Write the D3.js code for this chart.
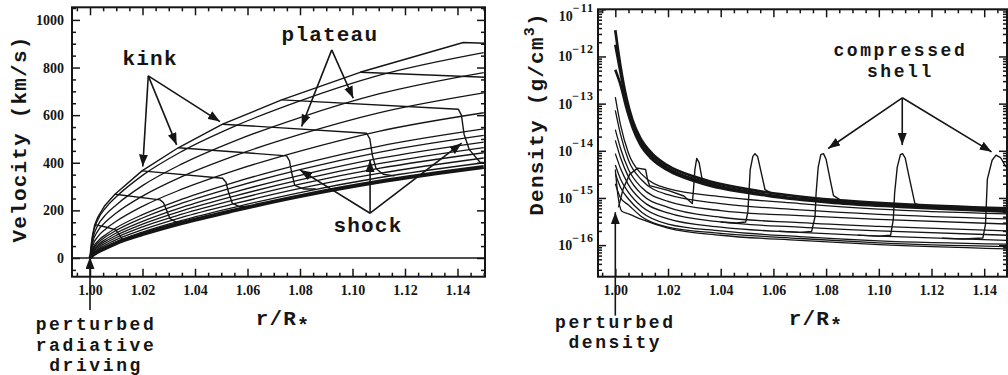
<!DOCTYPE html>
<html>
<head>
<meta charset="utf-8">
<script src="https://cdn.jsdelivr.net/npm/d3@7"></script>
<style>
  body { margin: 0; background: #fff; }
  svg { display: block; }
  .lbl { font-family: "Liberation Mono", "DejaVu Sans Mono", monospace; font-weight: bold; font-size: 21px; letter-spacing: 1.2px; fill: #151515; }
  .note { font-size: 18px; letter-spacing: 2.6px; }
</style>
</head>
<body>
<svg id="fig" width="1008" height="375"></svg>
<script>
// ---- data ----
const rTicks = [1.00, 1.02, 1.04, 1.06, 1.08, 1.10, 1.12, 1.14];
const velTicks = [0, 200, 400, 600, 800, 1000];
const denTicks = [1e-16, 1e-15, 1e-14, 1e-13, 1e-12, 1e-11];
const denTickExp = ['\u221216', '\u221215', '\u221214', '\u221213', '\u221212', '\u221211'];

// velocity (km/s) vs r/R*
const velBase = [[1.000,0],[1.001,12],[1.003,26],[1.006,42],[1.010,62],[1.020,100],[1.035,147],[1.055,200],[1.080,260],[1.110,320],[1.150,382]];
const velEnvelope = [[1.000,0],[1.0002,30],[1.0005,60],[1.001,98],[1.0018,140],[1.003,172],[1.0055,218],[1.0095,268],[1.0198,366],[1.0336,463],[1.0505,562],[1.0730,664],[1.1029,780],[1.1422,905],[1.1505,902]];
const velFan1 = [[1.000,0],[1.001,92],[1.003,161],[1.006,211],[1.010,257],[1.020,347],[1.035,448],[1.055,553],[1.080,660],[1.110,767],[1.150,863]];
const velFan2 = [[1.000,0],[1.001,78],[1.003,137],[1.006,182],[1.010,223],[1.020,304],[1.035,395],[1.055,491],[1.080,590],[1.110,689],[1.150,779]];
const velFan3 = [[1.000,0],[1.001,64],[1.003,114],[1.006,152],[1.010,189],[1.020,260],[1.035,342],[1.055,429],[1.080,519],[1.110,610],[1.150,694]];
const velFan4 = [[1.000,0],[1.001,50],[1.003,90],[1.006,122],[1.010,154],[1.020,217],[1.035,289],[1.055,367],[1.080,449],[1.110,532],[1.150,610]];
const velFan5 = [[1.000,0],[1.001,38],[1.003,71],[1.006,98],[1.010,127],[1.020,182],[1.035,247],[1.055,318],[1.080,393],[1.110,469],[1.150,542]];
const velFan6 = [[1.000,0],[1.001,34],[1.003,63],[1.006,89],[1.010,116],[1.020,168],[1.035,230],[1.055,298],[1.080,371],[1.110,444],[1.150,515]];
const velFan7 = [[1.000,0],[1.001,29],[1.003,55],[1.006,79],[1.010,105],[1.020,154],[1.035,213],[1.055,277],[1.080,347],[1.110,418],[1.150,487]];
const velFan8 = [[1.000,0],[1.001,26],[1.003,49],[1.006,71],[1.010,95],[1.020,142],[1.035,198],[1.055,260],[1.080,328],[1.110,396],[1.150,464]];
const velFan9 = [[1.000,0],[1.001,22],[1.003,43],[1.006,63],[1.010,86],[1.020,131],[1.035,184],[1.055,244],[1.080,310],[1.110,376],[1.150,442]];
const velFan10 = [[1.000,0],[1.001,18],[1.003,37],[1.006,55],[1.010,77],[1.020,119],[1.035,171],[1.055,228],[1.080,292],[1.110,355],[1.150,420]];
const velFan11 = [[1.000,0],[1.001,15],[1.003,31],[1.006,48],[1.010,69],[1.020,109],[1.035,158],[1.055,213],[1.080,275],[1.110,337],[1.150,400]];
const velShock1 = [[1.0018,140],[1.0060,130],[1.0098,118],[1.0110,100],[1.0122,80],[1.0140,79],[1.0170,88]];
const velShock2 = [[1.0095,268],[1.0267,244],[1.0280,232],[1.0292,200],[1.0305,165],[1.0330,150],[1.0360,150]];
const velShock3 = [[1.0198,366],[1.0505,335],[1.0518,318],[1.0528,275],[1.0542,230],[1.0570,215],[1.0610,218]];
const velShock4 = [[1.0336,463],[1.0749,429],[1.0760,408],[1.0768,360],[1.0780,305],[1.0813,290],[1.0860,290]];
const velShock5 = [[1.0505,562],[1.1054,524],[1.1066,500],[1.1076,430],[1.1090,375],[1.1117,352],[1.1160,345]];
const velShock6 = [[1.0730,664],[1.1403,625],[1.1415,600],[1.1425,520],[1.1445,455],[1.1486,402],[1.1505,400]];
const velShock7 = [[1.1029,780],[1.1505,759]];

// density (g/cm^3) vs r/R*
const denBase1 = [[1.000,3.6e-12],[1.001,1.4e-12],[1.002,6.0e-13],[1.0043,1.26e-13],[1.0065,4.5e-14],[1.0094,1.9e-14],[1.014,8.7e-15],[1.0195,5.0e-15],[1.032,2.6e-15],[1.0575,1.32e-15],[1.083,9.1e-16],[1.108,7.4e-16],[1.1485,6.0e-16]];
const denBase2 = [[1.000,1.78e-12],[1.001,8.9e-13],[1.002,4.5e-13],[1.0043,1.05e-13],[1.0065,3.8e-14],[1.0094,1.62e-14],[1.014,7.6e-15],[1.0195,4.4e-15],[1.032,2.3e-15],[1.0575,1.17e-15],[1.083,8.3e-16],[1.108,6.8e-16],[1.1485,5.4e-16]];
const denBase3 = [[1.000,5.2e-13],[1.002,2.5e-13],[1.0043,7.9e-14],[1.0065,3.2e-14],[1.0094,1.38e-14],[1.014,6.6e-15],[1.0195,4.0e-15],[1.032,2.1e-15],[1.0575,1.12e-15],[1.083,7.9e-16],[1.108,6.5e-16],[1.1485,5.1e-16]];
const denLow1 = [[1.000,1.38e-13],[1.002,3.5e-14],[1.005,8.9e-15],[1.010,3.2e-15],[1.020,1.58e-15],[1.040,1.07e-15],[1.070,7.6e-16],[1.100,5.8e-16],[1.1485,4.6e-16]];
const denLow2 = [[1.000,7.2e-14],[1.002,2.2e-14],[1.005,6.3e-15],[1.010,2.4e-15],[1.020,1.17e-15],[1.040,7.6e-16],[1.070,5.6e-16],[1.100,4.5e-16],[1.1485,3.6e-16]];
const denLow3 = [[1.000,2.8e-14],[1.002,1.12e-14],[1.005,4.0e-15],[1.010,1.66e-15],[1.020,8.5e-16],[1.040,5.4e-16],[1.070,4.2e-16],[1.100,3.5e-16],[1.1485,2.8e-16]];
const denLow4 = [[1.000,1.66e-14],[1.002,7.1e-15],[1.005,2.8e-15],[1.010,1.2e-15],[1.020,6.3e-16],[1.040,3.9e-16],[1.070,3.0e-16],[1.100,2.5e-16],[1.1485,2.0e-16]];
const denLow5 = [[1.000,8.7e-15],[1.002,4.2e-15],[1.005,1.9e-15],[1.010,8.9e-16],[1.020,4.8e-16],[1.040,3.1e-16],[1.070,2.4e-16],[1.100,2.0e-16],[1.1485,1.62e-16]];
const denLow6 = [[1.000,5.0e-15],[1.002,2.5e-15],[1.005,1.32e-15],[1.010,6.6e-16],[1.020,3.6e-16],[1.040,2.4e-16],[1.070,1.86e-16],[1.100,1.55e-16],[1.1485,1.26e-16]];
const denLow7 = [[1.000,3.3e-15],[1.002,1.66e-15],[1.005,9.5e-16],[1.010,5.0e-16],[1.020,2.8e-16],[1.040,2.0e-16],[1.070,1.51e-16],[1.100,1.23e-16],[1.1485,1.05e-16]];
const denLow8 = [[1.000,2.0e-15],[1.002,1.0e-15],[1.005,7.1e-16],[1.010,4.0e-16],[1.020,2.4e-16],[1.040,1.78e-16],[1.070,1.38e-16],[1.100,1.12e-16],[1.1485,9.3e-17]];
const denLow9 = [[1.000,4.0e-15],[1.001,1.12e-15],[1.0025,5.2e-16],[1.005,4.6e-16],[1.010,3.5e-16],[1.020,2.3e-16],[1.040,1.62e-16],[1.070,1.26e-16],[1.100,1.02e-16],[1.1485,8.3e-17]];
const denShellA = [[1.0012,6.3e-16],[1.003,1.58e-15],[1.0055,3.2e-15],[1.0085,4.3e-15],[1.0115,4.0e-15],[1.0122,2.5e-15],[1.013,1.82e-15],[1.020,1.45e-15],[1.026,1.1e-15],[1.0292,7.6e-16],[1.0297,1.58e-15],[1.0302,4.0e-15],[1.0309,6.9e-15],[1.0318,5.6e-15],[1.0330,2.4e-15],[1.0360,2.2e-15]];
const denShellB = [[1.040,3.1e-16],[1.046,2.95e-16],[1.0495,3.1e-16],[1.0503,5.0e-16],[1.0507,1.26e-15],[1.0512,4.0e-15],[1.0522,7.6e-15],[1.053,8.7e-15],[1.054,7.6e-15],[1.0555,3.2e-15],[1.0568,1.51e-15],[1.060,1.2e-15]];
const denShellC = [[1.062,1.97e-16],[1.070,1.86e-16],[1.0745,1.95e-16],[1.0758,4.0e-16],[1.0762,1.26e-15],[1.0770,4.5e-15],[1.0780,8.3e-15],[1.0790,8.7e-15],[1.0800,6.6e-15],[1.0815,2.5e-15],[1.0828,1.12e-15],[1.0860,8.7e-16]];
const denShellD = [[1.092,1.63e-16],[1.100,1.55e-16],[1.1045,1.62e-16],[1.1055,3.5e-16],[1.1060,1.26e-15],[1.1070,4.5e-15],[1.1082,8.3e-15],[1.1090,8.7e-15],[1.1100,7.1e-15],[1.1115,2.8e-15],[1.1137,7.6e-16],[1.1170,6.8e-16]];
const denShellE = [[1.124,1.40e-16],[1.132,1.35e-16],[1.1395,1.42e-16],[1.1405,2.8e-16],[1.1409,1.0e-15],[1.1412,2.5e-15],[1.1430,6.3e-15],[1.1445,8.1e-15],[1.1462,7.2e-15],[1.1480,4.8e-15],[1.1500,3.5e-15]];

const ink = '#151515';
const svg = d3.select('#fig');

// scales: left panel (velocity), right panel (density)
const vx = d3.scaleLinear().domain([0.99314, 1.15048]).range([72, 485]);
const vy = d3.scaleLinear().domain([-78.6, 1053]).range([276.7, 7.3]);
const dx = d3.scaleLinear().domain([0.99343, 1.14865]).range([598, 1007]);
const dy = d3.scaleLog().domain([2.14e-17, 1e-11]).range([276.7, 9.3]);

const rMinor = d3.range(0.995, 1.151, 0.005).filter(r => Math.abs(Math.round(r / 0.02) * 0.02 - r) > 1e-6);
const velMinor = d3.range(-50, 1051, 50).filter(v => v % 200 !== 0);
const denMinor = [];
for (let e = -17; e <= -12; e++) for (let m = 2; m <= 9; m++) denMinor.push(m * Math.pow(10, e));

const defs = svg.append('defs');
defs.append('marker').attr('id', 'ah').attr('viewBox', '0 0 12 9').attr('refX', 12).attr('refY', 4.5)
  .attr('markerWidth', 12).attr('markerHeight', 9).attr('markerUnits', 'userSpaceOnUse').attr('orient', 'auto')
  .append('path').attr('d', 'M0,0L12,4.5L0,9z').attr('fill', ink);

function clipFor(id, x, y) {
  defs.append('clipPath').attr('id', id).append('rect')
    .attr('x', x.range()[0]).attr('y', y.range()[1])
    .attr('width', x.range()[1] - x.range()[0]).attr('height', y.range()[0] - y.range()[1]);
}
clipFor('clipV', vx, vy);
clipFor('clipD', dx, dy);

function addAxes(x, y, yMajor, yMinor, yFormat) {
  const g = svg.append('g');
  const [xl, xr] = x.range();
  const [yb, yt] = y.range();
  const tk = (axis, vals, size, fmt) => axis.tickValues(vals).tickSizeInner(size).tickSizeOuter(0).tickFormat(fmt || '');
  g.append('g').attr('transform', `translate(0,${yb})`).call(tk(d3.axisBottom(x), rTicks, -8, d3.format('.2f')).tickPadding(8));
  g.append('g').attr('transform', `translate(0,${yb})`).call(tk(d3.axisBottom(x), rMinor, -4));
  g.append('g').attr('transform', `translate(0,${yt})`).call(tk(d3.axisTop(x), rTicks, -8));
  g.append('g').attr('transform', `translate(0,${yt})`).call(tk(d3.axisTop(x), rMinor, -4));
  g.append('g').attr('transform', `translate(${xl},0)`).call(tk(d3.axisLeft(y), yMajor, -8, yFormat).tickPadding(8));
  g.append('g').attr('transform', `translate(${xl},0)`).call(tk(d3.axisLeft(y), yMinor, -4));
  g.append('g').attr('transform', `translate(${xr},0)`).call(tk(d3.axisRight(y), yMajor, -8));
  g.append('g').attr('transform', `translate(${xr},0)`).call(tk(d3.axisRight(y), yMinor, -4));
  g.selectAll('.domain').remove();
  g.selectAll('.tick line').attr('stroke', ink).attr('stroke-width', 1.5);
  g.selectAll('.tick text').attr('font-family', '"Liberation Serif", serif').attr('font-weight', 'bold')
    .attr('font-size', 14).attr('fill', ink);
  g.append('rect').attr('x', xl).attr('y', yt).attr('width', xr - xl).attr('height', yb - yt)
    .attr('fill', 'none').attr('stroke', ink).attr('stroke-width', 2);
  return g;
}

function drawLines(g, gen, series, width) {
  g.selectAll(null).data(series).join('path')
    .attr('d', gen).attr('fill', 'none').attr('stroke', ink)
    .attr('stroke-width', width).attr('stroke-linejoin', 'round');
}

function arrows(x, y, list) {
  svg.append('g').selectAll('line').data(list).join('line')
    .attr('x1', d => x(d[0][0])).attr('y1', d => y(d[0][1]))
    .attr('x2', d => x(d[1][0])).attr('y2', d => y(d[1][1]))
    .attr('stroke', ink).attr('stroke-width', 1.6).attr('marker-end', 'url(#ah)');
}

function labels(x, y, list, cls) {
  svg.append('g').selectAll('text').data(list).join('text')
    .attr('class', cls).attr('text-anchor', 'middle')
    .attr('x', d => x(d[1])).attr('y', d => y(d[2])).text(d => d[0]);
}

// ---- velocity panel ----
addAxes(vx, vy, velTicks, velMinor, d3.format('d'));
const vg = svg.append('g').attr('clip-path', 'url(#clipV)');
const vLine = d3.line().x(d => vx(d[0])).y(d => vy(d[1]));
const vSmooth = d3.line().curve(d3.curveMonotoneX).x(d => vx(d[0])).y(d => vy(d[1]));
drawLines(vg, vLine, [[[vx.domain()[0], 0], [vx.domain()[1], 0]]], 1.6);
drawLines(vg, vSmooth, [velFan1, velFan2, velFan3, velFan4, velFan5, velFan6, velFan7, velFan8, velFan9, velFan10, velFan11], 1.3);
drawLines(vg, vSmooth, [velBase], 4);
drawLines(vg, vLine, [velEnvelope, velShock1, velShock2, velShock3, velShock4, velShock5, velShock6, velShock7], 1.4);

arrows(vx, vy, [
  [[1.0222, 765], [1.0201, 384]], [[1.0222, 765], [1.0330, 475]], [[1.0222, 765], [1.0495, 573]],
  [[1.0921, 874], [1.0806, 552]], [[1.0921, 874], [1.1003, 671]],
  [[1.1067, 188], [1.0800, 370]], [[1.1067, 188], [1.1067, 412]], [[1.1067, 188], [1.1416, 482]],
  [[1.0, -218], [1.0, 4]]
]);
labels(vx, vy, [['kink', 1.0229, 811], ['plateau', 1.0914, 912], ['shock', 1.1059, 109]], 'lbl');
labels(vx, vy, [['perturbed', 1.0023, -303], ['radiative', 1.0023, -389], ['driving', 1.0023, -475]], 'lbl note');

svg.append('text').attr('class', 'lbl').attr('text-anchor', 'middle')
  .attr('transform', 'translate(26,139) rotate(-90)').text('Velocity (km/s)');
const rx1 = svg.append('text').attr('class', 'lbl').attr('text-anchor', 'middle').attr('x', 283).attr('y', 325);
rx1.append('tspan').text('r/R');
rx1.append('tspan').attr('dy', 7).attr('font-size', 20).text('*');

// ---- density panel ----
const dAx = addAxes(dx, dy, denTicks, denMinor.filter(d => d > 2.14e-17 && d < 1e-11), '');
dAx.append('g').selectAll('text').data(denTicks).join('text')
  .attr('x', 594).attr('y', d => Math.max(dy(d) + 5, 20.5)).attr('text-anchor', 'end')
  .attr('font-family', '"Liberation Serif", serif').attr('font-weight', 'bold').attr('font-size', 14).attr('fill', ink)
  .each(function (d, i) {
    const t = d3.select(this);
    t.append('tspan').text('10');
    t.append('tspan').attr('dy', -8.5).attr('font-size', 12).attr('letter-spacing', 1).text(denTickExp[i]);
  });

const dg = svg.append('g').attr('clip-path', 'url(#clipD)');
const dLine = d3.line().x(d => dx(d[0])).y(d => dy(d[1]));
const dSmooth = d3.line().curve(d3.curveMonotoneX).x(d => dx(d[0])).y(d => dy(d[1]));
drawLines(dg, dSmooth, [denLow1, denLow2, denLow3, denLow4, denLow5, denLow6, denLow7, denLow8, denLow9], 1.3);
drawLines(dg, dSmooth, [denBase1, denBase2, denBase3], 2.7);
drawLines(dg, dLine, [denShellA, denShellB, denShellC, denShellD, denShellE], 1.4);

arrows(dx, dy, [
  [[1.1089, 1.33e-13], [1.0808, 1.12e-14]], [[1.1089, 1.33e-13], [1.1089, 1.32e-14]], [[1.1089, 1.33e-13], [1.1428, 9.5e-15]],
  [[1.0, 3.2e-18], [1.0, 5.0e-16]]
]);
labels(dx, dy, [['compressed', 1.1082, 1.0e-12], ['shell', 1.1082, 3.6e-13]], 'lbl note');
labels(dx, dy, [['perturbed', 1.0, 1.75e-18], ['density', 1.0, 6.5e-19]], 'lbl note');

const dt = svg.append('text').attr('class', 'lbl').attr('text-anchor', 'middle')
  .attr('transform', 'translate(543,114) rotate(-90)');
dt.append('tspan').text('Density (g/cm');
dt.append('tspan').attr('dy', -9).attr('font-size', 15).text('3');
dt.append('tspan').attr('dy', 9).text(')');
const rx2 = svg.append('text').attr('class', 'lbl').attr('text-anchor', 'middle').attr('x', 816).attr('y', 325);
rx2.append('tspan').text('r/R');
rx2.append('tspan').attr('dy', 7).attr('font-size', 20).text('*');
</script>
</body>
</html>
